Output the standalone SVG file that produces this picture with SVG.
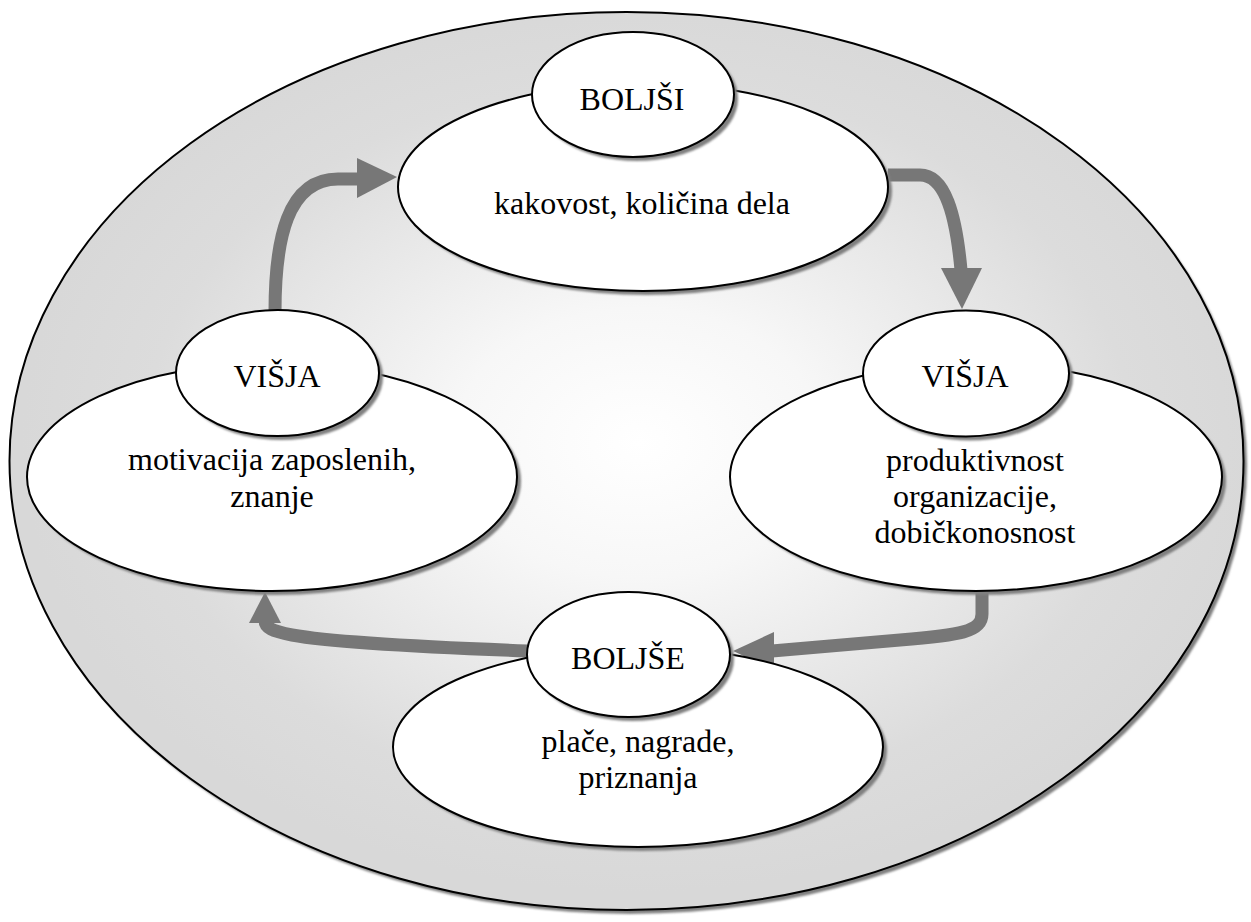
<svg xmlns="http://www.w3.org/2000/svg" width="1251" height="922" viewBox="0 0 1251 922">
  <defs>
    <radialGradient id="bgGrad" cx="0.51" cy="0.48" r="0.5">
      <stop offset="0" stop-color="#ffffff"/>
      <stop offset="0.3" stop-color="#f7f7f7"/>
      <stop offset="0.8" stop-color="#dcdcdc"/>
      <stop offset="1" stop-color="#d8d8d8"/>
    </radialGradient>
    <filter id="soft" x="-5%" y="-5%" width="110%" height="110%">
      <feGaussianBlur stdDeviation="0.8"/>
    </filter>
  </defs>
  <style>
    .shadow { fill: #808080; filter: url(#soft); }
    .bubble { fill: #ffffff; stroke: #000000; stroke-width: 2; }
    .label { font-family: "Liberation Serif", "Times New Roman", serif; font-size: 32px; fill: #000000; text-anchor: middle; }
    .flow { fill: none; stroke: #777777; stroke-width: 13; }
    .head { fill: #777777; }
  </style>

  <!-- background disc -->
  <g id="background">
    <ellipse class="shadow" cx="630" cy="465" rx="617" ry="449"/>
    <ellipse cx="626.5" cy="461" rx="617" ry="449" fill="url(#bgGrad)" stroke="#000" stroke-width="2"/>
  </g>

  <!-- connectors -->
  <g id="connectors">
    <path class="flow" d="M275,312 C275,240 287,179 338,179 L360,179"/>
    <polygon class="head" points="357,158 397,177 357,198"/>

    <path class="flow" d="M888,175 L920,175 C945,175 956,215 961,270"/>
    <polygon class="head" points="941,268 982,268 962,309"/>

    <path class="flow" d="M982,590 L982,614 C982,632 960,635 900,640 L772,651"/>
    <polygon class="head" points="774,632 774,670 733,651"/>

    <path class="flow" d="M528,651 C420,647 330,642 292,635 C272,631 265,628 265,620"/>
    <polygon class="head" points="249,623 281,623 265,592"/>
  </g>

  <!-- top node -->
  <g id="node-top">
    <ellipse class="shadow" cx="647" cy="191" rx="245" ry="104"/>
    <ellipse class="bubble" cx="643" cy="187" rx="245" ry="104"/>
    <text class="label" x="642" y="214">kakovost, količina dela</text>
    <ellipse class="shadow" cx="637" cy="98.5" rx="101" ry="62.5"/>
    <ellipse class="bubble" cx="633" cy="94.5" rx="101" ry="62.5"/>
    <text class="label" x="632" y="110">BOLJŠI</text>
  </g>

  <!-- left node -->
  <g id="node-left">
    <ellipse class="shadow" cx="276" cy="481" rx="245" ry="114"/>
    <ellipse class="bubble" cx="272" cy="477" rx="245" ry="114"/>
    <text class="label" x="272" y="470">motivacija zaposlenih,</text>
    <text class="label" x="272" y="507">znanje</text>
    <ellipse class="shadow" cx="281.5" cy="377" rx="101.5" ry="63"/>
    <ellipse class="bubble" cx="277.5" cy="373" rx="101.5" ry="63"/>
    <text class="label" x="277" y="387">VIŠJA</text>
  </g>

  <!-- right node -->
  <g id="node-right">
    <ellipse class="shadow" cx="980" cy="481" rx="246" ry="114"/>
    <ellipse class="bubble" cx="976" cy="477" rx="246" ry="114"/>
    <text class="label" x="975" y="471">produktivnost</text>
    <text class="label" x="975" y="507">organizacije,</text>
    <text class="label" x="975" y="543">dobičkonosnost</text>
    <ellipse class="shadow" cx="970" cy="377.5" rx="103" ry="63"/>
    <ellipse class="bubble" cx="966" cy="373.5" rx="103" ry="63"/>
    <text class="label" x="965" y="387">VIŠJA</text>
  </g>

  <!-- bottom node -->
  <g id="node-bottom">
    <ellipse class="shadow" cx="642" cy="751" rx="245" ry="100"/>
    <ellipse class="bubble" cx="638" cy="747" rx="245" ry="100"/>
    <text class="label" x="638" y="752">plače, nagrade,</text>
    <text class="label" x="638" y="788">priznanja</text>
    <ellipse class="shadow" cx="632.5" cy="658.5" rx="101.5" ry="62.5"/>
    <ellipse class="bubble" cx="628.5" cy="654.5" rx="101.5" ry="62.5"/>
    <text class="label" x="628" y="669">BOLJŠE</text>
  </g>
</svg>
